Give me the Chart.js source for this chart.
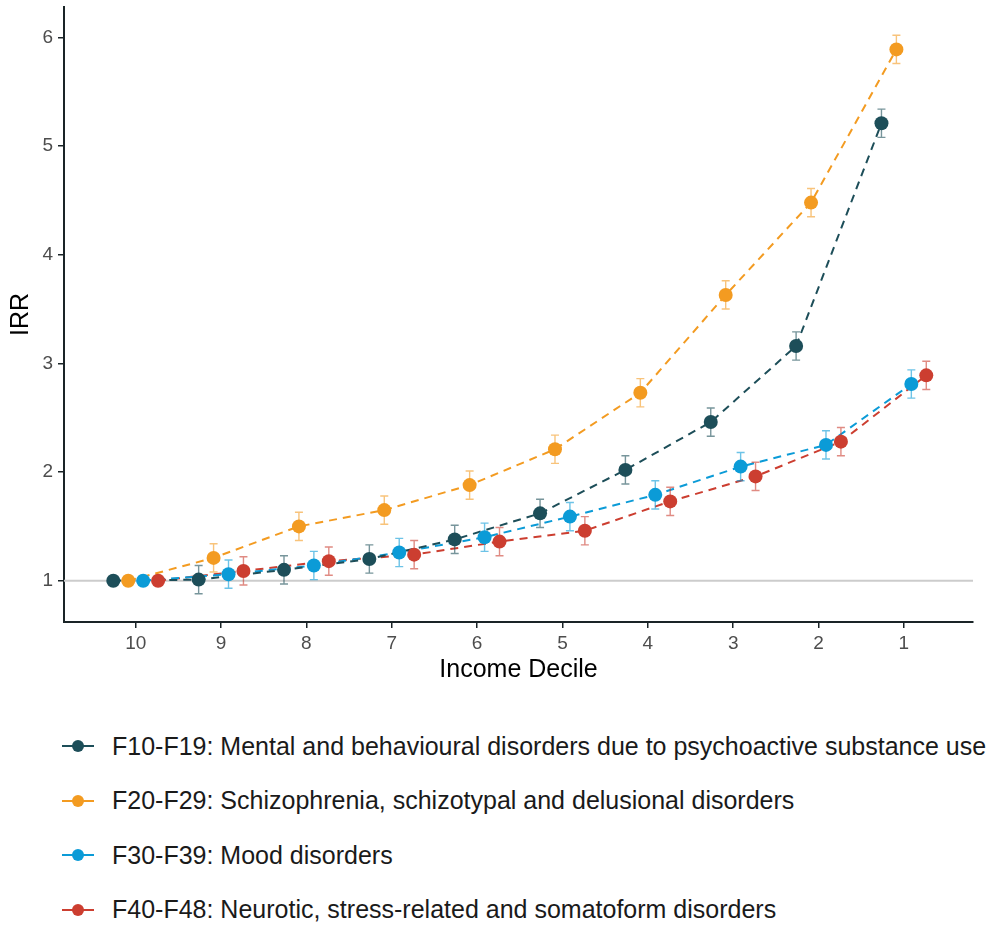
<!DOCTYPE html>
<html>
<head>
<meta charset="utf-8">
<script src="https://cdn.jsdelivr.net/npm/chart.js@4"></script>
<style>
  body { margin: 0; background: #fff; font-family: "Liberation Sans", Arial, sans-serif; }
  #wrap { position: relative; width: 991px; height: 925px; }
  #legend { position: absolute; left: 0; top: 719px; }
  .item { height: 54.5px; display: flex; align-items: center; font-size: 25px; color: #1a1a1a; white-space: nowrap; }
  .key { position: relative; width: 32px; height: 12px; margin-left: 62px; margin-right: 18px; }
  .key .ln { position: absolute; left: 0; top: 5px; width: 32px; height: 2px; }
  .key .dot { position: absolute; left: 10px; top: 0; width: 12px; height: 12px; border-radius: 50%; }
</style>
</head>
<body>
<div id="wrap">
  <canvas id="chart" width="991" height="700"></canvas>
  <div id="legend"></div>
</div>
<script>
// Income deciles (reference = 10)
const deciles = [10, 9, 8, 7, 6, 5, 4, 3, 2, 1];

const seriesNames = [
  'F10-F19: Mental and behavioural disorders due to psychoactive substance use',
  'F20-F29: Schizophrenia, schizotypal and delusional disorders',
  'F30-F39: Mood disorders',
  'F40-F48: Neurotic, stress-related and somatoform disorders'
];
const seriesColors = ['#1d4e59', '#f39b21', '#0b9bd7', '#cc3e30'];
const barColors = ['rgba(29,78,89,0.6)', 'rgba(243,155,33,0.6)', 'rgba(11,155,215,0.6)', 'rgba(204,62,48,0.6)'];
// dodge offsets (data units) so groups sit side by side
const dodge = [0.2625, 0.0875, -0.0875, -0.2625];

// IRR estimates
const irrF10 = [1.00, 1.01, 1.10, 1.20, 1.38, 1.62, 2.02, 2.46, 3.16, 5.21];
const irrF20 = [1.00, 1.21, 1.50, 1.65, 1.88, 2.21, 2.73, 3.63, 4.48, 5.89];
const irrF30 = [1.00, 1.06, 1.14, 1.26, 1.40, 1.59, 1.79, 2.05, 2.25, 2.81];
const irrF40 = [1.00, 1.09, 1.18, 1.24, 1.36, 1.46, 1.73, 1.96, 2.28, 2.89];

// 95% CI bounds
const lowF10 = [null, 0.88, 0.97, 1.07, 1.25, 1.49, 1.89, 2.33, 3.03, 5.08];
const upF10  = [null, 1.14, 1.23, 1.33, 1.51, 1.75, 2.15, 2.59, 3.29, 5.34];
const lowF20 = [null, 1.08, 1.37, 1.52, 1.75, 2.08, 2.60, 3.50, 4.35, 5.76];
const upF20  = [null, 1.34, 1.63, 1.78, 2.01, 2.34, 2.86, 3.76, 4.61, 6.02];
const lowF30 = [null, 0.93, 1.01, 1.13, 1.27, 1.46, 1.66, 1.92, 2.12, 2.68];
const upF30  = [null, 1.19, 1.27, 1.39, 1.53, 1.72, 1.92, 2.18, 2.38, 2.94];
const lowF40 = [null, 0.96, 1.05, 1.11, 1.23, 1.33, 1.60, 1.83, 2.15, 2.76];
const upF40  = [null, 1.22, 1.31, 1.37, 1.49, 1.59, 1.86, 2.09, 2.41, 3.02];

const yTicks = [1, 2, 3, 4, 5, 6];

const irr = [irrF10, irrF20, irrF30, irrF40];
const lows = [lowF10, lowF20, lowF30, lowF40];
const ups = [upF10, upF20, upF30, upF40];

const FONT = '"Liberation Sans", Arial, sans-serif';
const AXIS = '#1a2427';

const datasets = [];
irr.forEach((vals, s) => {
  const pts = deciles.map((d, i) => ({ x: d + dodge[s], y: vals[i] }));
  // dashed line, drawn underneath all points
  datasets.push({
    label: seriesNames[s], data: pts, order: 2,
    borderColor: seriesColors[s], borderWidth: 2, borderDash: [8, 6],
    pointRadius: 0, fill: false, tension: 0
  });
  // points
  datasets.push({
    label: seriesNames[s] + ' pts', data: pts, order: 1, series: s,
    showLine: false, pointRadius: 7, pointBorderWidth: 0,
    pointBackgroundColor: seriesColors[s], pointHoverRadius: 7
  });
});

const refLine = {
  id: 'refLine',
  beforeDatasetsDraw(chart) {
    const { ctx, chartArea } = chart;
    const y = chart.scales.y.getPixelForValue(1);
    ctx.save();
    ctx.strokeStyle = '#cccccc';
    ctx.lineWidth = 2;
    ctx.beginPath();
    ctx.moveTo(chartArea.left, y);
    ctx.lineTo(chartArea.right, y);
    ctx.stroke();
    ctx.restore();
  }
};

const errorBars = {
  id: 'errorBars',
  beforeDatasetDraw(chart, args) {
    const ds = chart.data.datasets[args.index];
    if (ds.series === undefined) return;
    const s = ds.series;
    const { ctx } = chart;
    const xs = chart.scales.x, ys = chart.scales.y;
    ctx.save();
    ctx.strokeStyle = barColors[s];
    ctx.lineWidth = 1.4;
    deciles.forEach((d, i) => {
      if (lows[s][i] == null) return;
      const px = xs.getPixelForValue(d + dodge[s]);
      const y1 = ys.getPixelForValue(lows[s][i]);
      const y2 = ys.getPixelForValue(ups[s][i]);
      ctx.beginPath();
      ctx.moveTo(px, y1); ctx.lineTo(px, y2);
      ctx.moveTo(px - 4, y1); ctx.lineTo(px + 4, y1);
      ctx.moveTo(px - 4, y2); ctx.lineTo(px + 4, y2);
      ctx.stroke();
    });
    ctx.restore();
  }
};

new Chart(document.getElementById('chart').getContext('2d'), {
  type: 'line',
  data: { datasets },
  plugins: [refLine, errorBars],
  options: {
    responsive: false,
    animation: false,
    layout: { padding: { top: 5, right: 18, left: 0, bottom: 0 } },
    plugins: { legend: { display: false }, tooltip: { enabled: false } },
    scales: {
      x: {
        type: 'linear', reverse: true, min: 0.19, max: 10.84,
        afterBuildTicks: (sc) => { sc.ticks = deciles.map(v => ({ value: v })); },
        afterFit: (sc) => { sc.height = 78; sc.paddingLeft = 0; sc.paddingRight = 0; },
        grid: { drawOnChartArea: false, color: AXIS, lineWidth: 1.5, tickLength: 6 },
        border: { display: true, color: AXIS, width: 2 },
        ticks: { color: '#4d4d4d', font: { family: FONT, size: 19 }, padding: 4, maxRotation: 0 },
        title: { display: true, text: 'Income Decile', color: '#000', font: { family: FONT, size: 25 }, padding: { top: 0, bottom: 15 } }
      },
      y: {
        min: 0.62, max: 6.28,
        afterBuildTicks: (sc) => { sc.ticks = yTicks.map(v => ({ value: v })); },
        afterFit: (sc) => { sc.width = 64; sc.paddingTop = 0; sc.paddingBottom = 0; },
        grid: { drawOnChartArea: false, color: AXIS, lineWidth: 1.5, tickLength: 6 },
        border: { display: true, color: AXIS, width: 2 },
        ticks: { color: '#4d4d4d', font: { family: FONT, size: 19 }, padding: 5 },
        title: { display: true, text: 'IRR', color: '#000', font: { family: FONT, size: 25 }, padding: { top: 6, bottom: 0 } }
      }
    }
  }
});

// legend
const legendEl = document.getElementById('legend');
legendEl.innerHTML = seriesNames.map((name, s) => `
  <div class="item">
    <span class="key"><span class="ln" style="background:${seriesColors[s]}"></span><span class="dot" style="background:${seriesColors[s]}"></span></span>
    <span>${name}</span>
  </div>`).join('');
</script>
</body>
</html>
